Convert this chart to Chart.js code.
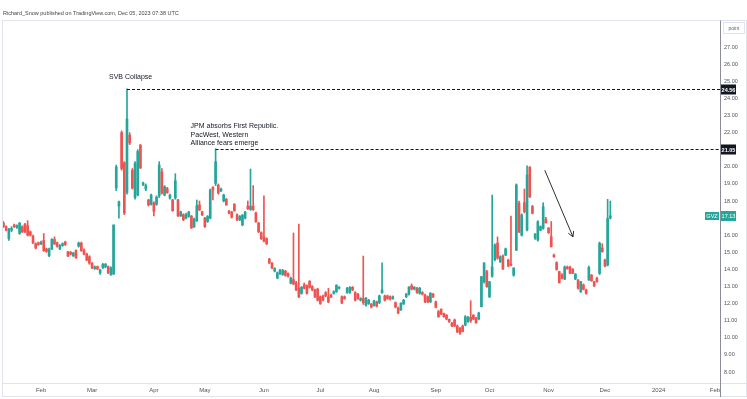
<!DOCTYPE html>
<html><head><meta charset="utf-8">
<script src="https://cdn.jsdelivr.net/npm/chart.js@4.4.0/dist/chart.umd.min.js"></script>
<style>html,body{margin:0;padding:0;background:#fff;overflow:hidden}</style>
</head><body>
<canvas id="c" width="747" height="399"></canvas>
<script>
// ---- data ----
const startDate = '2023-01-11';
const calendarEnd = '2024-02-09';
const holidays = ['2023-01-16','2023-02-20','2023-04-07','2023-05-29','2023-06-19','2023-07-04','2023-09-04','2023-11-23','2023-12-25','2024-01-01','2024-01-15'];
const monthTickLabels = ['Feb','Mar','Apr','May','Jun','Jul','Aug','Sep','Oct','Nov','Dec','2024','Feb'];
const yTickHidden = [17, 21, 28];
const symbol = 'GVZ';
const unitLabel = 'point';
const headerText = 'Richard_Snow published on TradingView.com, Dec 05, 2023 07:38 UTC';

const open = [
16.7,16.5,15.8,16.3,16.6,16.45,16.1,16.5,16.65,16.55,
16.2,15.95,15.5,15.55,15.5,15.7,15.2,14.8,15.2,15.75,
15.55,15.2,15.4,15.6,15.03,15.0,14.8,15.1,15.37,15.54,
15.13,14.9,14.74,14.37,14.05,14.16,13.8,14.1,14.15,14.16,
13.7,13.73,18.76,17.7,22.0,20.24,18.5,21.85,19.8,18.2,
18.35,21.27,18.95,18.7,18.06,17.8,17.9,17.8,18.3,19.7,
18.35,18.72,18.17,18.06,18.17,18.06,17.12,17.2,17.0,17.1,
17.12,16.48,16.85,17.77,17.37,17.0,16.8,17.0,18.8,19.03,
18.93,18.6,18.0,18.1,17.4,17.35,17.8,17.2,16.9,16.6,
17.0,17.7,17.5,17.7,17.3,16.71,16.15,15.9,15.8,14.6,
14.37,13.9,13.5,13.73,13.7,13.9,13.75,13.2,13.4,13.22,
12.9,12.6,13.1,13.05,13.3,13.0,12.8,12.85,12.4,12.45,
12.64,12.4,12.5,12.6,12.7,12.9,12.4,12.4,12.64,12.65,
12.95,12.64,12.55,12.2,12.3,11.9,12.0,11.98,11.9,12.1,
12.05,12.64,12.45,12.45,12.4,12.3,12.05,11.74,11.63,11.98,
12.4,12.56,13.05,12.85,12.9,12.6,12.65,12.5,12.4,12.1,
12.55,12.1,11.53,11.67,11.43,11.33,11.08,10.85,11.04,10.69,
10.57,10.69,10.75,10.94,11.2,11.33,11.16,11.1,11.82,13.28,
13.87,12.4,13.6,14.55,15.54,14.45,14.78,14.84,14.55,14.3,
13.67,15.13,17.88,16.0,17.9,16.3,19.99,17.67,15.82,15.72,
16.3,16.4,16.92,16.42,15.91,14.84,14.39,13.87,13.67,13.44,
14.14,14.12,14.0,13.44,13.38,12.7,13.09,12.8,13.38,13.67,
13.28,13.48,13.77,15.25,14.55,14.26,17.0];
const high = [
16.8,16.55,16.4,16.5,16.65,16.6,16.75,16.55,16.7,16.85,
16.25,16.0,15.55,15.6,15.65,16.1,15.25,15.25,15.8,15.9,
15.6,15.45,15.55,15.65,15.05,15.05,15.0,15.15,15.6,15.6,
15.2,14.95,14.8,14.4,14.2,14.2,14.0,14.35,14.35,14.2,
14.15,16.6,20.1,18.0,22.1,20.3,24.56,22.0,19.9,20.3,
21.0,21.3,19.1,19.0,18.1,18.4,17.95,18.3,20.3,19.9,
18.9,18.8,18.4,18.1,19.6,18.1,17.4,17.25,17.3,17.4,
17.15,17.0,18.06,18.0,17.4,17.05,17.15,18.7,18.85,21.05,
19.0,18.75,18.4,18.15,17.45,17.4,17.85,17.25,17.15,17.2,
17.4,18.0,19.87,18.9,17.35,16.75,16.2,18.3,15.85,14.65,
14.4,14.1,13.85,14.0,14.0,13.95,13.8,13.55,16.13,13.3,
16.65,13.0,13.2,13.1,13.35,13.05,12.85,12.9,12.45,12.5,
12.7,12.9,12.55,12.75,13.1,13.0,12.45,12.45,12.95,13.0,
13.0,12.7,12.6,12.35,14.78,12.35,12.25,12.0,12.2,12.15,
12.5,14.39,12.5,12.5,12.45,12.45,12.1,11.8,12.05,12.25,
12.6,13.0,13.15,13.0,12.95,12.95,12.7,12.55,12.45,12.65,
12.6,12.15,11.6,11.7,11.45,11.35,11.1,10.9,11.1,10.75,
10.6,10.75,11.3,11.25,12.17,11.35,11.2,11.5,13.6,14.4,
13.95,13.3,18.35,15.5,15.9,14.8,14.85,15.25,14.6,17.12,
14.1,19.0,18.0,17.25,18.7,20.05,20.0,17.75,16.1,16.85,
16.55,17.9,17.05,16.45,16.8,14.9,14.45,13.9,13.75,14.2,
14.2,14.2,14.05,13.75,13.4,13.3,13.15,12.85,14.2,13.7,
13.3,13.55,15.6,15.5,14.6,18.1,18.0];
const low = [
16.45,16.25,15.7,16.2,16.45,16.4,16.05,16.15,16.15,15.95,
15.95,15.5,15.2,15.4,15.45,15.05,15.0,14.75,15.15,15.45,
15.3,15.15,15.35,15.4,14.75,14.85,14.75,14.65,15.3,15.05,
14.85,14.5,14.3,14.05,14.0,13.98,13.7,14.05,14.1,13.75,
13.65,13.7,18.6,17.0,19.8,17.2,18.4,21.3,18.7,18.1,
18.3,19.9,18.9,18.6,17.7,17.75,17.13,17.75,18.2,18.4,
18.3,18.45,18.1,17.4,18.1,17.1,17.1,16.85,16.95,17.05,
16.4,16.45,16.8,17.45,17.15,16.45,16.75,16.95,18.06,18.9,
18.4,18.55,17.95,17.75,17.25,17.0,17.4,16.85,16.85,16.55,
16.95,17.5,17.45,17.45,16.75,16.15,15.75,15.6,15.45,14.35,
14.05,13.85,13.45,13.7,13.65,13.6,13.55,13.15,13.1,12.75,
12.35,12.55,12.85,12.55,12.9,12.75,12.35,12.15,11.95,12.15,
12.4,12.05,12.35,12.55,12.65,12.85,12.0,12.25,12.6,12.6,
12.75,12.15,12.25,12.15,11.95,11.85,11.95,11.75,11.85,11.8,
12.0,12.6,12.15,12.25,12.2,12.25,11.75,11.4,11.6,11.95,
12.35,12.5,12.8,12.8,12.6,12.55,12.5,12.05,12.05,12.05,
12.35,11.75,11.2,11.35,11.2,11.05,10.9,10.65,10.65,10.3,
10.2,10.35,10.7,10.9,10.9,11.05,10.85,11.05,11.8,13.2,
12.95,12.35,13.55,14.5,14.6,14.4,14.0,14.8,14.15,14.2,
13.6,15.1,16.15,15.95,17.3,16.25,18.2,17.25,15.75,15.65,
16.25,16.35,16.7,16.1,15.3,14.7,13.95,13.2,13.45,13.4,
14.0,13.75,13.75,13.4,12.85,12.65,12.8,12.55,13.35,13.3,
13.0,13.25,13.7,15.0,14.15,14.2,16.95];
const close = [
16.5,16.3,16.35,16.4,16.5,16.55,16.7,16.2,16.2,16.0,
16.0,15.55,15.25,15.45,15.6,15.1,15.05,15.2,15.75,15.5,
15.35,15.4,15.5,15.45,14.78,14.9,14.95,14.67,15.54,15.1,
14.9,14.55,14.37,14.08,14.15,14.03,13.98,14.3,14.3,13.8,
14.1,16.6,19.99,17.96,19.9,17.3,22.8,21.4,18.75,20.2,
20.9,19.93,19.05,18.9,17.77,18.35,17.4,18.23,20.1,18.47,
18.84,18.49,18.35,17.43,19.18,17.12,17.37,16.9,17.2,17.35,
16.42,16.95,17.73,17.47,17.18,16.5,17.1,18.64,18.64,20.3,
18.47,18.7,18.35,17.77,17.3,17.05,17.43,16.9,17.1,17.18,
17.35,17.55,17.7,17.5,16.79,16.2,15.8,15.65,15.5,14.37,
14.08,14.05,13.8,13.96,13.95,13.65,13.6,13.5,13.15,12.8,
12.4,12.95,12.9,12.6,12.95,12.8,12.4,12.2,12.0,12.2,
12.45,12.1,12.38,12.7,13.08,12.95,12.03,12.3,12.9,12.95,
12.8,12.2,12.3,12.3,12.05,12.33,12.2,11.8,12.15,11.85,
12.45,12.8,12.2,12.3,12.25,12.4,11.8,11.45,12.03,12.2,
12.55,12.97,12.85,12.95,12.65,12.9,12.55,12.1,12.1,12.6,
12.4,11.78,11.23,11.4,11.23,11.1,10.94,10.69,10.69,10.36,
10.28,10.36,11.23,11.2,11.0,11.1,10.87,11.45,13.57,14.37,
12.99,13.28,14.16,15.43,14.67,14.74,14.02,15.2,14.2,14.25,
14.08,18.94,16.2,17.18,17.37,19.52,18.25,17.28,16.07,16.79,
16.5,17.67,16.73,16.15,15.33,14.74,14.0,13.22,13.48,14.14,
14.05,13.77,13.77,13.73,12.9,13.28,12.84,12.6,14.12,13.34,
13.03,13.28,15.53,15.04,14.2,16.98,17.13];

// annotated events (bar index of the event candle) and the arrow (bar index, price)
const eventBars = [46, 79];
const eventTexts = [['SVB Collapse'], ['JPM absorbs First Republic.', 'PacWest, Western', 'Alliance fears emerge']];
const arrowFrom = [201.6, 19.8];
const arrowTo = [212.1, 15.9];

// ---- trading calendar (categories) ----
function tradingCalendar(start, end, hol) {
  const out = [];
  const d = new Date(start + 'T00:00:00Z');
  const e = new Date(end + 'T00:00:00Z');
  while (d <= e) {
    const wd = d.getUTCDay();
    const s = d.toISOString().slice(0, 10);
    if (wd !== 0 && wd !== 6 && !hol.includes(s)) out.push(s);
    d.setUTCDate(d.getUTCDate() + 1);
  }
  return out;
}
const dates = tradingCalendar(startDate, calendarEnd, holidays);
const monthStarts = [];
for (let k = 1; k < dates.length; k++) {
  if (dates[k].slice(0, 7) !== dates[k - 1].slice(0, 7)) monthStarts.push(k);
}
const monthTicks = monthStarts.slice(0, monthTickLabels.length);

const UP = '#26a69a', DOWN = '#ef5350';
const n = close.length;
const idx = Array.from({length: n}, (_, i) => i);
const colors = idx.map(i => close[i] >= open[i] ? UP : DOWN);
const FONT = '"Liberation Sans", Arial, sans-serif';

const overlay = {
  id: 'overlay',
  afterDraw(chart) {
    const {ctx, chartArea: ca, scales: {x, y}} = chart;
    const W = chart.width, H = chart.height;
    ctx.save();
    // header
    ctx.fillStyle = '#444';
    ctx.font = '5.5px ' + FONT;
    ctx.textBaseline = 'middle';
    ctx.textAlign = 'left';
    ctx.fillText(headerText, 3, 13);
    // pane frame
    ctx.strokeStyle = '#e0e3eb';
    ctx.lineWidth = 1;
    ctx.strokeRect(2.5, 20.5, W - 3, H - 23);
    // time axis line
    ctx.beginPath(); ctx.moveTo(2, Math.round(ca.bottom) + 0.5); ctx.lineTo(W, Math.round(ca.bottom) + 0.5); ctx.stroke();
    // price axis line
    ctx.strokeStyle = '#8a8d96';
    ctx.beginPath(); ctx.moveTo(Math.round(ca.right) + 0.5, 20.5); ctx.lineTo(Math.round(ca.right) + 0.5, H - 2); ctx.stroke();
    // unit box
    ctx.strokeStyle = '#e0e3eb';
    ctx.strokeRect(ca.right + 3.5, 22.5, 21, 11);
    ctx.fillStyle = '#666';
    ctx.font = '5px ' + FONT;
    ctx.textAlign = 'center';
    ctx.fillText(unitLabel, ca.right + 14, 28.5);

    // event levels
    eventBars.forEach((b, k) => {
      const level = high[b];
      const px = x.getPixelForValue(b);
      const py = Math.round(y.getPixelForValue(level)) + 0.5;
      ctx.strokeStyle = '#131722';
      ctx.lineWidth = 1;
      ctx.setLineDash([3, 2]);
      ctx.beginPath(); ctx.moveTo(px, py); ctx.lineTo(ca.right, py); ctx.stroke();
      ctx.setLineDash([]);
      // axis label
      ctx.fillStyle = '#131722';
      ctx.fillRect(ca.right + 1, py - 5, 15, 10);
      ctx.fillStyle = '#fff';
      ctx.font = 'bold 5.5px ' + FONT;
      ctx.textAlign = 'center';
      ctx.textBaseline = 'middle';
      ctx.fillText(level.toFixed(2), ca.right + 8.5, py + 0.5);
      // text
      const lines = eventTexts[k];
      ctx.fillStyle = '#131722';
      ctx.font = '7px ' + FONT;
      ctx.textAlign = 'left';
      const lh = 8.8;
      const left = k === 0 ? px - 18 : px - 25;
      const bottom = k === 0 ? py - 12 : py - 6;
      lines.forEach((t, j) => {
        ctx.fillText(t, left, bottom - (lines.length - 1 - j) * lh);
      });
    });

    // arrow
    const ax0 = x.getPixelForValue(arrowFrom[0]), ay0 = y.getPixelForValue(arrowFrom[1]);
    const ax1 = x.getPixelForValue(arrowTo[0]), ay1 = y.getPixelForValue(arrowTo[1]);
    ctx.strokeStyle = '#2a2e39';
    ctx.lineWidth = 1;
    ctx.beginPath(); ctx.moveTo(ax0, ay0); ctx.lineTo(ax1, ay1); ctx.stroke();
    const ang = Math.atan2(ay1 - ay0, ax1 - ax0);
    ctx.beginPath();
    ctx.moveTo(ax1 - 6 * Math.cos(ang - 0.5), ay1 - 6 * Math.sin(ang - 0.5));
    ctx.lineTo(ax1, ay1);
    ctx.lineTo(ax1 - 6 * Math.cos(ang + 0.5), ay1 - 6 * Math.sin(ang + 0.5));
    ctx.stroke();

    // last price + symbol label
    const last = close[n - 1];
    const ly = Math.round(y.getPixelForValue(last));
    const lc = last >= open[n - 1] ? UP : DOWN;
    ctx.fillStyle = lc;
    ctx.fillRect(ca.right + 1, ly - 5, 15, 10);
    ctx.fillRect(ca.right - 15, ly - 4, 14, 8);
    ctx.fillStyle = '#fff';
    ctx.font = '5.5px ' + FONT;
    ctx.textAlign = 'center';
    ctx.textBaseline = 'middle';
    ctx.fillText(last.toFixed(2), ca.right + 8.5, ly + 0.5);
    ctx.fillText(symbol, ca.right - 8, ly + 0.5);
    ctx.restore();
  }
};

new Chart(document.getElementById('c'), {
  data: {
    datasets: [
      {
        type: 'bar',
        data: idx.map(i => ({x: i, y: [low[i], high[i]]})),
        backgroundColor: colors,
        barThickness: 1,
        grouped: false,
        borderWidth: 0,
        order: 2
      },
      {
        type: 'bar',
        data: idx.map(i => ({x: i, y: [open[i], close[i]]})),
        backgroundColor: colors,
        barThickness: 2,
        grouped: false,
        borderWidth: 0,
        minBarLength: 1,
        order: 1
      }
    ]
  },
  options: {
    responsive: false,
    animation: false,
    devicePixelRatio: 1,
    layout: {padding: {left: 2, top: 21, right: 0, bottom: 0}},
    plugins: {legend: {display: false}, tooltip: {enabled: false}, title: {display: false}},
    scales: {
      x: {
        type: 'linear',
        offset: false,
        min: -0.55,
        max: 266.85,
        grid: {display: false, drawTicks: false},
        border: {display: false},
        afterBuildTicks: s => { s.ticks = monthTicks.map(v => ({value: v})); },
        afterFit: s => { s.height = 16; },
        ticks: {
          autoSkip: false, maxRotation: 0, padding: 4,
          color: '#50535e', font: {size: 6, family: FONT},
          callback: (v, i) => monthTickLabels[i]
        }
      },
      y: {
        type: 'linear',
        position: 'right',
        min: 7.357,
        max: 28.526,
        grid: {display: false, drawTicks: false},
        border: {display: false},
        afterFit: s => { s.width = 27; },
        ticks: {
          stepSize: 1, includeBounds: false, autoSkip: false, padding: 4,
          color: '#50535e', font: {size: 5.5, family: FONT},
          callback: v => yTickHidden.includes(v) ? '' : v.toFixed(2)
        }
      }
    }
  },
  plugins: [overlay]
});
</script>
</body></html>
